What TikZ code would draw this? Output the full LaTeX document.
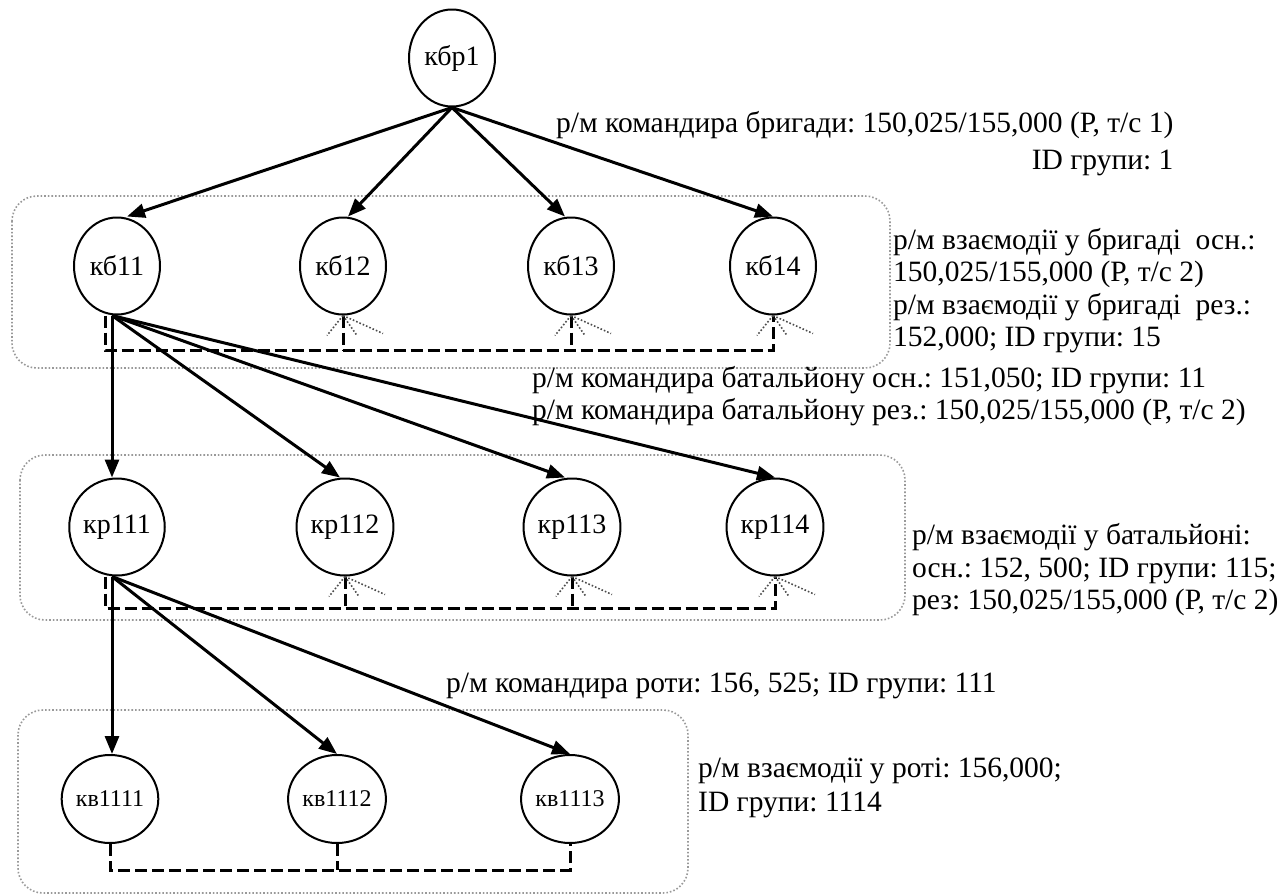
\documentclass[tikz,border=0pt]{standalone}
\usepackage{fontspec}
\setmainfont{Liberation Serif}
\usetikzlibrary{arrows.meta,shapes.geometric}
\frenchspacing
\begin{document}
\begin{tikzpicture}[x=1pt,y=-1pt,
  unit/.style={draw,line width=2pt,ellipse,inner sep=0pt,minimum width=86pt,minimum height=97pt,font=\fontsize{28}{30}\selectfont},
  unitv/.style={unit,minimum width=90pt,minimum height=88pt,font=\fontsize{24}{26}\selectfont},
  arr/.style={line width=3pt,-{Triangle[length=18pt,width=14pt]}},
  dashline/.style={line width=3pt,dash pattern=on 12pt off 5pt},
  ray/.style={line width=1.6pt,dotted,gray!60!black},
  grp/.style={draw=gray!80,line width=1.6pt,dotted,rounded corners=25pt},
  lbl/.style={anchor=base west,inner sep=0pt,font=\fontsize{29.5}{33}\selectfont}]
\useasboundingbox (0,0) rectangle (1286,895);
% group boxes
\draw[grp] (12,196) rectangle (890,368);
\draw[grp] (20,455) rectangle (905,620);
\draw[grp] (18,710) rectangle (688,893);
% nodes
\node[unit] (b1) at (452,58) {кбр1};
\node[unit] (b11) at (117,266) {кб11};
\node[unit] (b12) at (343,266) {кб12};
\node[unit] (b13) at (571,266) {кб13};
\node[unit] (b14) at (773,266) {кб14};
\node[unit] (r111) at (117,527) {кр111};
\node[unit] (r112) at (345,527) {кр112};
\node[unit] (r113) at (572,527) {кр113};
\node[unit] (r114) at (775,527) {кр114};
\node[unitv] (v1111) at (110,799) {кв1111};
\node[unitv] (v1112) at (337,799) {кв1112};
\node[unitv] (v1113) at (570,799) {кв1113};
% arrows level 1
\draw[arr] (b1.south) -- ([xshift=10pt]b11.north);
\draw[arr] (b1.south) -- ([xshift=5pt]b12.north);
\draw[arr] (b1.south) -- ([xshift=-6pt]b13.north);
\draw[arr] (b1.south) -- (b14.north);
% arrows level 2
\coordinate (s11) at ([xshift=-5pt]b11.south);
\draw[arr] (s11) -- (s11 |- r111.north);
\draw[arr] (s11) -- ([xshift=-5pt]r112.north);
\draw[arr] (s11) -- ([xshift=-7pt]r113.north);
\draw[arr] (s11) -- (r114.north);
% arrows level 3
\coordinate (s111) at ([xshift=-5pt]r111.south);
\draw[arr] (s111) -- (s111 |- v1111.north);
\draw[arr] (s111) -- (v1112.north);
\draw[arr] (s111) -- (v1113.north);
% dashed links level 1
\coordinate (d1) at (105,350);
\draw[dashline] ([xshift=-12pt]b11.south) -- (d1) -- (d1 -| b14.south) -- (b14.south);
\draw[dashline] (b12.south) -- (d1 -| b12.south);
\draw[dashline] (b13.south) -- (d1 -| b13.south);
% dashed links level 2
\coordinate (d2) at (105,608);
\draw[dashline] ([xshift=-12pt]r111.south) -- (d2) -- (d2 -| r114.south) -- (r114.south);
\draw[dashline] (r112.south) -- (d2 -| r112.south);
\draw[dashline] (r113.south) -- (d2 -| r113.south);
% dashed links level 3
\coordinate (d3) at (110,870);
\draw[dashline] (v1111.south) -- (d3) -- (d3 -| v1113.south) -- (v1113.south);
\draw[dashline] (v1112.south) -- (d3 -| v1112.south);
% rays
\foreach \n in {b12,b13,b14,r112,r113,r114}{
  \draw[ray] (\n.south) -- ++(-16,20);
  \draw[ray] (\n.south) -- ++(14,20);
  \draw[ray] (\n.south) -- ++(40,18);
}
% labels
\node[lbl] (t1) at (556,132) {р/м командира бригади: 150,025/155,000 (Р, т/с 1)};
\node[lbl,anchor=base east] (t2) at (t1.base east |- 0,169) {ID групи: 1};
\node[lbl] (t3) at (893,249) {р/м взаємодії у бригаді\ \ осн.:};
\node[lbl] (t4) at (893,281) {150,025/155,000 (Р, т/с 2)};
\node[lbl] (t5) at (893,314) {р/м взаємодії у бригаді\ \ рез.:};
\node[lbl] (t6) at (893,346) {152,000; ID групи: 15};
\node[lbl] (t7) at (532,387) {р/м командира батальйону осн.: 151,050; ID групи: 11};
\node[lbl] (t8) at (532,419) {р/м командира батальйону рез.: 150,025/155,000 (Р, т/с 2)};
\node[lbl] (t9) at (912,544) {р/м взаємодії у батальйоні:};
\node[lbl] (t10) at (912,577) {осн.: 152, 500; ID групи: 115;};
\node[lbl] (t11) at (912,609) {рез: 150,025/155,000 (Р, т/с 2)};
\node[lbl] (t12) at (446,692) {р/м командира роти: 156, 525; ID групи: 111};
\node[lbl] (t13) at (698,777) {р/м взаємодії у роті: 156,000;};
\node[lbl] (t14) at (698,811) {ID групи: 1114};
\end{tikzpicture}
\end{document}
